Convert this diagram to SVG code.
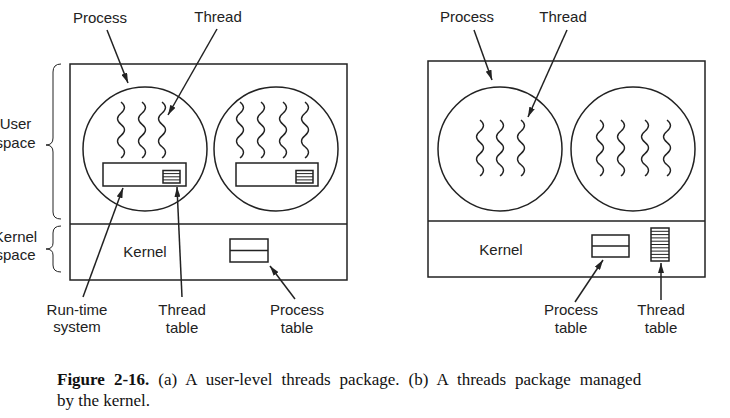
<svg xmlns="http://www.w3.org/2000/svg" width="730" height="418" viewBox="0 0 730 418">
<style>
  .ln{fill:none;stroke:#222;stroke-width:1.5}
  .th{fill:none;stroke:#222;stroke-width:1.4}
  .ar{fill:none;stroke:#222;stroke-width:1.5;marker-end:url(#ah)}
  .lb{font-family:"Liberation Sans",Arial,sans-serif;font-size:15px;fill:#222;text-anchor:middle}
  .cap{font-family:"Liberation Serif","Times New Roman",serif;font-size:17px;fill:#111}
</style>
<defs>
  <marker id="ah" viewBox="0 0 10 6" refX="10" refY="3" markerWidth="10" markerHeight="6" markerUnits="userSpaceOnUse" orient="auto">
    <path d="M0,0 L10,3 L0,6 Z" fill="#222"/>
  </marker>
  <path id="wave" d="M0,0 q7,5.6 0,11.2 t0,11.2 t0,11.2 t0,11.2 t0,11.2"/>
</defs>
<rect width="730" height="418" fill="#fff"/>

<!-- (a) user-level -->
<g id="boxA">
  <rect class="ln" x="70" y="64" width="277" height="216"/>
  <line class="ln" x1="70" y1="224" x2="347" y2="224"/>
  <text class="lb" x="145" y="257">Kernel</text>
</g>
<g id="braces">
  <path class="ln" style="stroke-width:1" d="M61,64 Q53,64 53,72 L53,138 Q53,145 46,145 Q53,145 53,152 L53,212 Q53,219 61,219"/>
  <path class="ln" style="stroke-width:1" d="M61,226 Q53,226 53,233 L53,243 Q53,249 46,249 Q53,249 53,255 L53,265 Q53,272 61,272"/>
  <text class="lb" x="15.5" y="129">User</text>
  <text class="lb" x="15.5" y="148">space</text>
  <text class="lb" x="15.5" y="242">Kernel</text>
  <text class="lb" x="15.5" y="260">space</text>
</g>
<g id="processA1">
  <circle class="ln" cx="145" cy="149" r="62"/>
  <use href="#wave" class="th" x="121" y="102"/>
  <use href="#wave" class="th" x="142" y="102"/>
  <use href="#wave" class="th" x="162" y="102"/>
  <rect class="ln" x="103" y="163" width="83" height="23"/>
  <rect class="ln" x="163" y="170.5" width="17" height="12.5"/>
  <path class="ln" style="stroke-width:1" d="M163,173.6 H180 M163,176.8 H180 M163,179.9 H180"/>
</g>
<g id="processA2">
  <circle class="ln" cx="276" cy="149" r="62"/>
  <use href="#wave" class="th" x="240" y="102"/>
  <use href="#wave" class="th" x="261" y="102"/>
  <use href="#wave" class="th" x="283" y="102"/>
  <use href="#wave" class="th" x="305" y="102"/>
  <rect class="ln" x="236" y="163" width="82" height="23"/>
  <rect class="ln" x="296" y="170.5" width="17" height="12.5"/>
  <path class="ln" style="stroke-width:1" d="M296,173.6 H313 M296,176.8 H313 M296,179.9 H313"/>
</g>
<g id="processTableA">
  <rect class="ln" x="230" y="239" width="38" height="23"/>
  <line class="ln" x1="230" y1="250.5" x2="268" y2="250.5"/>
</g>
<g id="labelsA">
  <text class="lb" x="100" y="23">Process</text>
  <text class="lb" x="218" y="22">Thread</text>
  <text class="lb" x="77" y="315">Run-time</text>
  <text class="lb" x="77" y="332">system</text>
  <text class="lb" x="182" y="315">Thread</text>
  <text class="lb" x="182" y="333">table</text>
  <text class="lb" x="297" y="315">Process</text>
  <text class="lb" x="297" y="333">table</text>
</g>

<!-- (b) kernel-level -->
<g id="boxB">
  <rect class="ln" x="428" y="61" width="277" height="216"/>
  <line class="ln" x1="428" y1="221" x2="705" y2="221"/>
  <text class="lb" x="501" y="255">Kernel</text>
</g>
<g id="processB1">
  <circle class="ln" cx="500" cy="149" r="62"/>
  <use href="#wave" class="th" x="480" y="120"/>
  <use href="#wave" class="th" x="500" y="120"/>
  <use href="#wave" class="th" x="521" y="120"/>
</g>
<g id="processB2">
  <circle class="ln" cx="633" cy="149" r="62"/>
  <use href="#wave" class="th" x="600" y="120"/>
  <use href="#wave" class="th" x="621" y="120"/>
  <use href="#wave" class="th" x="645" y="120"/>
  <use href="#wave" class="th" x="667" y="120"/>
</g>
<g id="processTableB">
  <rect class="ln" x="592" y="235" width="37" height="22"/>
  <line class="ln" x1="592" y1="246" x2="629" y2="246"/>
</g>
<g id="threadTableB">
  <rect class="ln" x="651" y="228" width="18" height="33"/>
  <path class="ln" style="stroke-width:1" d="M651,231.3 H669 M651,234.6 H669 M651,237.9 H669 M651,241.2 H669 M651,244.5 H669 M651,247.8 H669 M651,251.1 H669 M651,254.4 H669 M651,257.7 H669"/>
</g>
<g id="labelsB">
  <text class="lb" x="467" y="22">Process</text>
  <text class="lb" x="563" y="22">Thread</text>
  <text class="lb" x="571" y="315">Process</text>
  <text class="lb" x="571" y="333">table</text>
  <text class="lb" x="661" y="315">Thread</text>
  <text class="lb" x="661" y="333">table</text>
</g>

<g id="connectors">
  <line class="ar" x1="107" y1="30" x2="128" y2="83"/>
  <line class="ar" x1="217" y1="29" x2="168" y2="115"/>
  <line class="ar" x1="83" y1="297" x2="123" y2="188"/>
  <line class="ar" x1="182" y1="297" x2="177" y2="187"/>
  <line class="ar" x1="295" y1="299" x2="270" y2="266"/>
  <line class="ar" x1="474" y1="30" x2="492" y2="80"/>
  <line class="ar" x1="567" y1="30" x2="528" y2="117"/>
  <line class="ar" x1="575" y1="302" x2="603" y2="260"/>
  <line class="ar" x1="661" y1="300" x2="661" y2="263"/>
</g>

<g id="caption">
  <text class="cap" x="57" y="385" word-spacing="4.8"><tspan font-weight="bold">Figure 2-16.</tspan> (a) A user-level threads package. (b) A threads package managed</text>
  <text class="cap" x="57" y="406">by the kernel.</text>
</g>
</svg>
